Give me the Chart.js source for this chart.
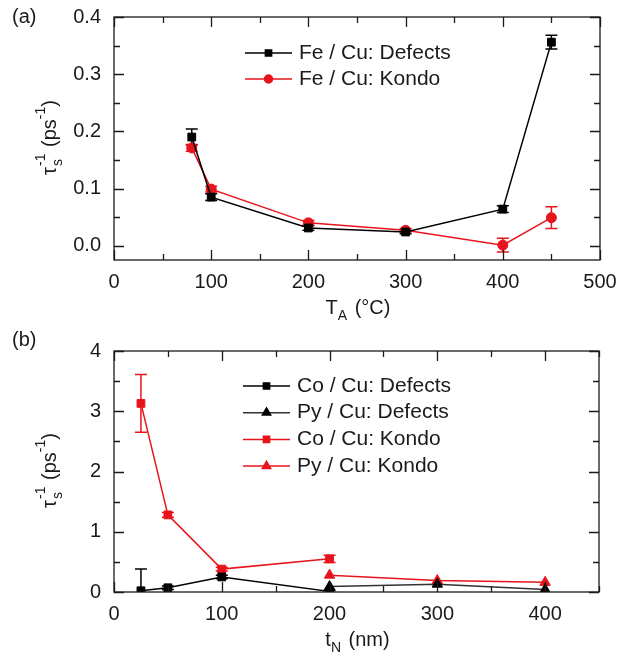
<!DOCTYPE html>
<html>
<head>
<meta charset="utf-8">
<script src="https://cdn.jsdelivr.net/npm/chart.js@4.4.1/dist/chart.umd.min.js"></script>
<style>
  body { margin: 0; background: #fff; }
  canvas { position: absolute; left: 0; }
  #chartA { top: 0; }
  #chartB { top: 330px; }
</style>
</head>
<body>
<canvas id="chartA" width="617" height="330"></canvas>
<canvas id="chartB" width="617" height="332"></canvas>
<script>
// (a) spin relaxation rate vs annealing temperature
const annealTemps = [80, 100, 200, 300, 400, 450];
const feDefects = [0.190, 0.085, 0.031, 0.024, 0.064, 0.356];
const feDefectsErr = [0.014, 0.006, 0.004, 0.003, 0.006, 0.012];
const feKondo = [0.171, 0.099, 0.040, 0.027, 0.001, 0.049];
const feKondoErr = [0.006, 0.005, 0.004, 0.003, 0.012, 0.019];
const xTicksA = [0, 100, 200, 300, 400, 500];
const yTicksA = [0.0, 0.1, 0.2, 0.3, 0.4];

// (b) spin relaxation rate vs Cu thickness
const coThick = [25, 50, 100, 200];
const coDefects = [0.02, 0.07, 0.25, 0.01];
const coDefectsErr = [0.36, 0.03, 0.03, 0.02];
const coKondo = [3.13, 1.28, 0.38, 0.55];
const coKondoErr = [0.48, 0.04, 0.03, 0.06];
const pyThick = [200, 300, 400];
const pyDefects = [0.09, 0.13, 0.04];
const pyKondo = [0.28, 0.19, 0.16];
const xTicksB = [0, 100, 200, 300, 400];
const yTicksB = [0, 1, 2, 3, 4];

const FONT = '"Liberation Sans", Arial, sans-serif';
const INK = '#1a1a1a';
const RED = '#e8141b';

function pts(xs, ys) {
    return xs.map((x, i) => ({ x: x, y: ys[i] }));
}

function series(label, xs, ys, errs, color, shape, r, lineColor) {
    return {
        label: label,
        data: pts(xs, ys),
        errors: errs,
        showLine: true,
        borderColor: lineColor || color,
        borderWidth: 1.5,
        backgroundColor: color,
        pointBackgroundColor: color,
        pointBorderColor: color,
        pointBorderWidth: 1,
        pointStyle: shape,
        pointRadius: r,
        pointHoverRadius: r,
        tension: 0
    };
}

// error bars, drawn through the chart scales
const errorBars = {
    id: 'errorBars',
    beforeDatasetsDraw(chart) {
        const ctx = chart.ctx, a = chart.chartArea;
        const xs = chart.scales.x, ys = chart.scales.y;
        ctx.save();
        ctx.beginPath();
        ctx.rect(a.left, a.top, a.right - a.left, a.bottom - a.top);
        ctx.clip();
        chart.data.datasets.forEach(ds => {
            if (!ds.errors) return;
            ctx.strokeStyle = ds.pointBorderColor;
            ctx.lineWidth = 1.5;
            ds.data.forEach((p, i) => {
                const e = ds.errors[i];
                if (!e) return;
                const px = xs.getPixelForValue(p.x);
                const top = ys.getPixelForValue(p.y + e);
                const bot = ys.getPixelForValue(p.y - e);
                ctx.beginPath();
                ctx.moveTo(px, top); ctx.lineTo(px, bot);
                ctx.moveTo(px - 6, top); ctx.lineTo(px + 6, top);
                ctx.moveTo(px - 6, bot); ctx.lineTo(px + 6, bot);
                ctx.stroke();
            });
        });
        ctx.restore();
    }
};

// frame, inward ticks on all four sides, titles and legend
const decor = {
    id: 'decor',
    afterDraw(chart) {
        const o = chart.options.plugins.decor;
        const ctx = chart.ctx, a = chart.chartArea;
        const xs = chart.scales.x, ys = chart.scales.y;
        ctx.save();
        ctx.strokeStyle = INK;
        ctx.lineWidth = 1.3;
        ctx.strokeRect(a.left, a.top, a.right - a.left, a.bottom - a.top);
        ctx.beginPath();
        for (let v = xs.min; v <= xs.max + 1e-9; v += o.xMinor) {
            const px = Math.round(xs.getPixelForValue(v)) + 0.5;
            const len = Math.abs(v / o.xMajor - Math.round(v / o.xMajor)) < 1e-6 ? 10 : 6;
            ctx.moveTo(px, a.bottom); ctx.lineTo(px, a.bottom - len);
            ctx.moveTo(px, a.top); ctx.lineTo(px, a.top + len);
        }
        for (let v = o.yStart; v <= ys.max + 1e-9; v += o.yMinor) {
            const py = Math.round(ys.getPixelForValue(v)) + 0.5;
            const len = Math.abs(v / o.yMajor - Math.round(v / o.yMajor)) < 1e-6 ? 10 : 6;
            ctx.moveTo(a.left, py); ctx.lineTo(a.left + len, py);
            ctx.moveTo(a.right, py); ctx.lineTo(a.right - len, py);
        }
        ctx.stroke();

        ctx.fillStyle = INK;
        ctx.textBaseline = 'middle';
        // panel letter
        ctx.font = '20px ' + FONT;
        ctx.textAlign = 'left';
        ctx.fillText(o.letter, 12, o.letterY);

        // x title with subscript
        const cx = (a.left + a.right) / 2, ty = a.bottom + 48;
        ctx.font = '20px ' + FONT;
        const w1 = ctx.measureText(o.xMain).width;
        ctx.font = '14px ' + FONT;
        const w2 = ctx.measureText(o.xSub).width;
        ctx.font = '20px ' + FONT;
        const w3 = ctx.measureText(o.xRest).width;
        let x0 = cx - (w1 + w2 + w3) / 2;
        ctx.fillText(o.xMain, x0, ty);
        ctx.font = '14px ' + FONT;
        ctx.fillText(o.xSub, x0 + w1, ty + 8);
        ctx.font = '20px ' + FONT;
        ctx.fillText(o.xRest, x0 + w1 + w2 + 2, ty);

        // y title: tau_s^-1 (ps^-1)
        ctx.save();
        ctx.translate(50, (a.top + a.bottom) / 2);
        ctx.rotate(-Math.PI / 2);
        ctx.font = '20px ' + FONT;
        const tw = ctx.measureText('\u03c4').width;
        ctx.font = '14px ' + FONT;
        const sw = ctx.measureText('-1').width;
        ctx.font = '20px ' + FONT;
        const pw = ctx.measureText(' (ps').width;
        ctx.font = '14px ' + FONT;
        const sw2 = ctx.measureText('-1').width;
        ctx.font = '20px ' + FONT;
        const cw = ctx.measureText(')').width;
        let yx = -(tw + sw + pw + sw2 + cw) / 2;
        ctx.fillText('\u03c4', yx, 0);
        ctx.font = '14px ' + FONT;
        ctx.fillText('s', yx + tw + 1, 8);
        ctx.fillText('-1', yx + tw + 1, -9);
        ctx.font = '20px ' + FONT;
        ctx.fillText(' (ps', yx + tw + sw + 2, 0);
        ctx.font = '14px ' + FONT;
        ctx.fillText('-1', yx + tw + sw + pw + 2, -9);
        ctx.font = '20px ' + FONT;
        ctx.fillText(')', yx + tw + sw + pw + sw2 + 2, 0);
        ctx.restore();

        // legend
        chart.data.datasets.forEach((ds, i) => {
            const ly = o.legendY + i * o.legendGap;
            const lx0 = o.legendX, lx1 = o.legendX + 47;
            ctx.strokeStyle = ds.borderColor;
            ctx.lineWidth = 1.5;
            ctx.beginPath();
            ctx.moveTo(lx0, ly); ctx.lineTo(lx1, ly);
            ctx.stroke();
            ctx.fillStyle = ds.pointBackgroundColor;
            ctx.strokeStyle = ds.pointBorderColor;
            Chart.helpers.drawPoint(ctx, {
                pointStyle: ds.pointStyle, radius: ds.pointRadius * 0.8, borderWidth: 1
            }, (lx0 + lx1) / 2, ly);
            ctx.fillStyle = INK;
            ctx.font = '21px ' + FONT;
            ctx.textAlign = 'left';
            ctx.fillText(ds.label, lx1 + 7, ly);
        });
        ctx.restore();
    }
};

function makeOptions(xMin, xMax, xTicks, yMin, yMax, yTicks, fmt, pad, bottomH, decorOpts) {
    return {
        responsive: false,
        animation: false,
        events: [],
        layout: { padding: pad },
        plugins: { legend: { display: false }, tooltip: { enabled: false }, decor: decorOpts },
        scales: {
            x: {
                type: 'linear', min: xMin, max: xMax,
                afterBuildTicks: s => { s.ticks = xTicks.map(v => ({ value: v })); },
                afterFit: s => { s.height = bottomH; s.paddingLeft = 0; s.paddingRight = 0; },
                ticks: { color: INK, font: { family: FONT, size: 20 }, padding: 10, maxRotation: 0 },
                grid: { display: false, drawTicks: false },
                border: { display: false }
            },
            y: {
                type: 'linear', min: yMin, max: yMax,
                afterBuildTicks: s => { s.ticks = yTicks.map(v => ({ value: v })); },
                afterFit: s => { s.width = 114; s.paddingTop = 0; s.paddingBottom = 0; },
                ticks: { color: INK, font: { family: FONT, size: 20 }, padding: 13, callback: fmt },
                grid: { display: false, drawTicks: false },
                border: { display: false }
            }
        }
    };
}

new Chart(document.getElementById('chartA'), {
    type: 'scatter',
    data: {
        datasets: [
            series('Fe / Cu: Defects', annealTemps, feDefects, feDefectsErr, '#000000', 'rect', 5.5),
            series('Fe / Cu: Kondo', annealTemps, feKondo, feKondoErr, RED, 'circle', 5)
        ]
    },
    options: makeOptions(0, 500, xTicksA, -0.025, 0.4, yTicksA, v => v.toFixed(1),
        { left: 0, right: 17, top: 17, bottom: 0 }, 70,
        { letter: '(a)', letterY: 17, xMain: 'T', xSub: 'A', xRest: ' (\u00b0C)',
          xMajor: 100, xMinor: 50, yMajor: 0.1, yMinor: 0.05, yStart: 0,
          legendX: 245, legendY: 53, legendGap: 26 }),
    plugins: [errorBars, decor]
});

new Chart(document.getElementById('chartB'), {
    type: 'scatter',
    data: {
        datasets: [
            series('Co / Cu: Defects', coThick, coDefects, coDefectsErr, '#000000', 'rect', 5.5),
            series('Py / Cu: Defects', pyThick, pyDefects, null, '#000000', 'triangle', 6, '#333333'),
            series('Co / Cu: Kondo', coThick, coKondo, coKondoErr, RED, 'rect', 5.5),
            series('Py / Cu: Kondo', pyThick, pyKondo, null, RED, 'triangle', 6)
        ]
    },
    options: makeOptions(0, 450, xTicksB, 0, 4, yTicksB, v => v.toFixed(0),
        { left: 0, right: 18, top: 21, bottom: 0 }, 70,
        { letter: '(b)', letterY: 10, xMain: 't', xSub: 'N', xRest: ' (nm)',
          xMajor: 100, xMinor: 50, yMajor: 1, yMinor: 0.5, yStart: 0,
          legendX: 243, legendY: 56, legendGap: 26.7 }),
    plugins: [errorBars, decor]
});
</script>
</body>
</html>
